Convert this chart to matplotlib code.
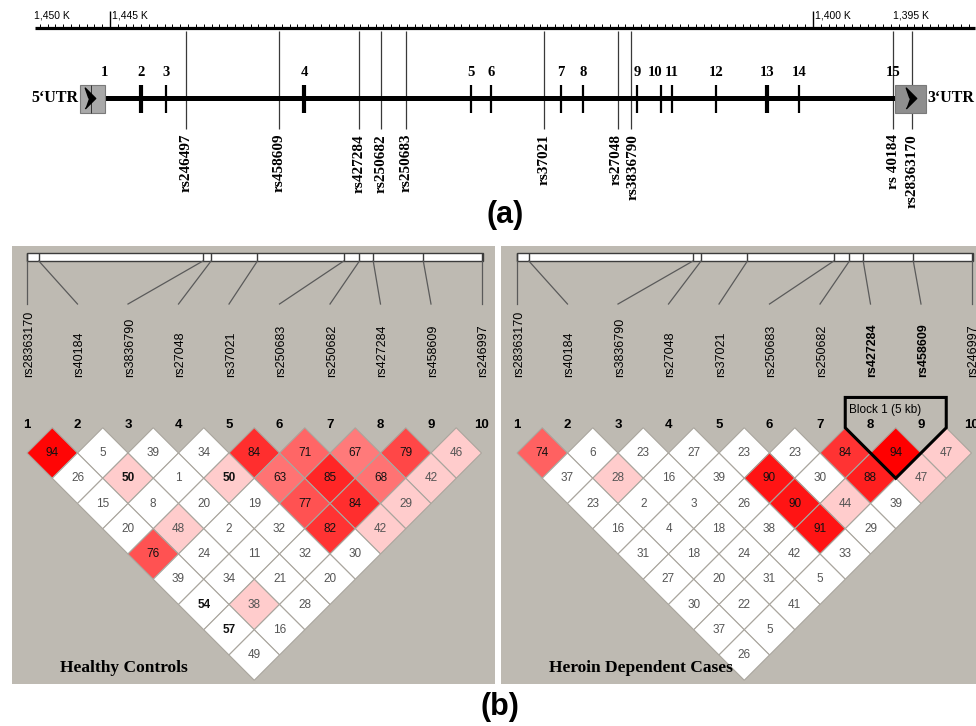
import numpy as np
import matplotlib.pyplot as plt
from matplotlib.patches import Polygon, Rectangle

# ---- data ----
# (a) gene map, positions in K (genomic coordinate / 1000)
gene_snp_names = ["rs246497", "rs458609", "rs427284", "rs250682", "rs250683",
                  "rs37021", "rs27048", "rs3836790", "rs 40184", "rs28363170"]
gene_snp_kb = [1440.13, 1434.18, 1429.06, 1427.65, 1426.05,
               1417.22, 1412.48, 1411.65, 1394.87, 1393.66]
exon_numbers = list(range(1, 16))
exon_kb = [1445.38, 1443.02, 1441.41, 1432.58, 1421.89, 1420.61, 1416.13, 1414.72,
           1411.26, 1409.72, 1409.02, 1406.20, 1402.94, 1400.89, 1394.87]
thick_exons = [2, 4, 13]
utr5_kb = (1446.92, 1445.32)
utr3_kb = (1394.74, 1392.76)
ruler_kb = (1449.8, 1389.6)
ruler_labels = [1450, 1445, 1400, 1395]
ruler_major = [1445, 1400]

# (b) LD plots
ld_markers = ["rs28363170", "rs40184", "rs3836790", "rs27048", "rs37021",
              "rs250683", "rs250682", "rs427284", "rs458609", "rs246997"]
ld_kb = gene_snp_kb[::-1]

healthy_ld = [
    [94, 5, 39, 34, 84, 71, 67, 79, 46],
    [26, 50, 1, 50, 63, 85, 68, 42],
    [15, 8, 20, 19, 77, 84, 29],
    [20, 48, 2, 32, 82, 42],
    [76, 24, 11, 32, 30],
    [39, 34, 21, 20],
    [54, 38, 28],
    [57, 16],
    [49],
]
healthy_shade = [
    [.98, 0, 0, 0, .82, .6, .52, .72, .2],
    [0, .2, 0, .2, .55, .85, .55, .2],
    [0, 0, 0, 0, .68, .82, .2],
    [0, .2, 0, 0, .8, .2],
    [.68, 0, 0, 0, 0],
    [0, 0, 0, 0],
    [0, .2, 0],
    [0, 0],
    [0],
]
healthy_strong = [(2, 1), (2, 3), (7, 0), (8, 0)]

cases_ld = [
    [74, 6, 23, 27, 23, 23, 84, 94, 47],
    [37, 28, 16, 39, 90, 30, 88, 47],
    [23, 2, 3, 26, 90, 44, 39],
    [16, 4, 18, 38, 91, 29],
    [31, 18, 24, 42, 33],
    [27, 20, 31, 5],
    [30, 22, 41],
    [37, 5],
    [26],
]
cases_shade = [
    [.62, 0, 0, 0, 0, 0, .8, 1.0, .2],
    [0, .2, 0, 0, .92, 0, .88, .2],
    [0, 0, 0, 0, .92, .2, 0],
    [0, 0, 0, 0, .92, 0],
    [0, 0, 0, 0, 0],
    [0, 0, 0, 0],
    [0, 0, 0],
    [0, 0],
    [0],
]
cases_block = (8, 9)

W, H = 976, 726
SANS = "Liberation Sans"
SERIF = "Liberation Serif"
fig = plt.figure(figsize=(W / 100, H / 100), dpi=100)


def px_axes(x0, y0, x1, y1):
    return fig.add_axes([x0 / W, 1 - y1 / H, (x1 - x0) / W, (y1 - y0) / H])


# ---------------- (a) gene structure ----------------
ax = px_axes(0, 0, W, 235)
ax.set_xlim(1445 + 110 / 15.62, 1445 - 866 / 15.62)
ax.set_ylim(235, 0)
ax.set_axis_off()

ax.plot(ruler_kb, [28, 28], color="k", lw=2.3, solid_capstyle="butt")
minor = np.arange(1449.5, ruler_kb[1], -0.5)
ax.vlines(minor, 24, 28, color="k", lw=0.7)
ax.vlines(ruler_major, 11, 28, color="k", lw=1.0)
for k in ruler_labels:
    ax.text(k - 0.12, 15.5, f"{k:,} K", fontsize=7.5, family=SANS,
            ha="left", va="center")

ax.vlines(gene_snp_kb, 31, 129, color="#3a3a3a", lw=0.9)
snp_nudge = {"rs27048": -1.5, "rs3836790": 1.5}   # points, close neighbours
for name, k in zip(gene_snp_names, gene_snp_kb):
    ax.annotate(name, (k, 134), xytext=(snp_nudge.get(name, 0), 0),
                textcoords="offset points", rotation=90, ha="center",
                va="top", family=SERIF, weight="bold", fontsize=11)

ax.plot([utr5_kb[1], utr3_kb[0]], [98, 98], color="k", lw=3.6,
        solid_capstyle="butt")
for (a, b), fc in [(utr5_kb, "#a9a9a9"), (utr3_kb, "#8e8e8e")]:
    ax.add_patch(Rectangle((b, 85), a - b, 28, facecolor=fc,
                           edgecolor="#7a7a7a", lw=0.8, zorder=3))
ax.vlines(1446.2, 85, 113, color="#333", lw=0.7, zorder=4)
chevron = [(-0.5, -1), (0.5, 0), (-0.5, 1), (-0.15, 0)]
ax.plot([1446.3, 1393.72], [98, 98], ls="none", marker=chevron, ms=15,
        color="k", zorder=5)

label_shift = {10: -4}   # points, keeps "10" clear of "11"
for n, k in zip(exon_numbers, exon_kb):
    if n not in (1, 15):
        ax.vlines(k, 85, 113, color="k", lw=3.0 if n in thick_exons else 1.6,
                  zorder=4)
    ax.annotate(str(n), (k, 73), xytext=(label_shift.get(n, 0), 0),
                textcoords="offset points", ha="center", va="center",
                family=SERIF, weight="bold", fontsize=10.5)

ax.text(utr5_kb[0] + 0.12, 98, "5\u2018UTR", ha="right", va="center",
        family=SERIF, weight="bold", fontsize=11.5)
ax.text(utr3_kb[1] - 0.12, 98, "3\u2018UTR", ha="left", va="center",
        family=SERIF, weight="bold", fontsize=11.5)

fig.text(505 / W, 1 - 215 / H, "(a)", fontsize=22, weight="bold",
         family=SANS, ha="center", va="center")
fig.text(500 / W, 1 - 707 / H, "(b)", fontsize=22, weight="bold",
         family=SANS, ha="center", va="center")

# ---------------- (b) LD plots ----------------
S = 50.5      # pixels per marker
Y0 = 427.75   # pixel row of y = 0


def shade_color(s):
    return (1.0, 1.0 - s, 1.0 - s)


def ld_panel(x0, x1, m1, values, shades, title, strong=(), block=None):
    ax = px_axes(x0, 246, x1, 684)
    ax.set_xlim(1 + (x0 - m1) / S, 1 + (x1 - m1) / S)
    ax.set_ylim((Y0 - 684) / S, (Y0 - 246) / S)
    ax.set_facecolor("#bebab2")
    ax.set_xticks([])
    ax.set_yticks([])
    for sp in ax.spines.values():
        sp.set_visible(False)

    n = len(ld_markers)
    idx = np.arange(1, n + 1)
    kb = np.array(ld_kb)
    bar_x = 1 + (n - 1) * (kb - kb[0]) / (kb[-1] - kb[0])
    ax.add_patch(Rectangle((1, 3.302), n - 1 + 0.03, 0.158, facecolor="white",
                           edgecolor="#3c3c3c", lw=1.0))
    ax.vlines(bar_x, 3.302, 3.46, color="#3c3c3c", lw=1.0)
    for bx, i in zip(bar_x, idx):
        ax.plot([bx, i], [3.302, 2.45], color="#5a5a5a", lw=0.9)

    in_block = set(range(block[0], block[1] + 1)) if block else set()
    for i, name in zip(idx, ld_markers):
        ax.text(i + 0.04, 1.005, name, rotation=90, ha="center", va="bottom",
                family=SANS, fontsize=9,
                weight="bold" if i in in_block else "normal")
        ax.text(i, 0.055, str(i), ha="center", va="center", family=SANS,
                weight="bold", fontsize=9.5)

    for d, (row, srow) in enumerate(zip(values, shades), start=1):
        for k, (v, s) in enumerate(zip(row, srow)):
            i = k + 1
            cx, cy = i + d / 2, -d / 2
            ax.add_patch(Polygon([(cx - .5, cy), (cx, cy + .5), (cx + .5, cy),
                                  (cx, cy - .5)], closed=True,
                                 facecolor=shade_color(s), edgecolor="#aaa69e",
                                 lw=0.8))
            bold = (d, k) in strong
            col = "#111111" if (s >= 0.5 or bold) else "#555555"
            ax.text(cx, cy, str(v), ha="center", va="center", family=SANS,
                    fontsize=8.5, color=col, weight="bold" if bold else "normal")

    if block:
        a, b = block
        top = 0.6
        ax.add_patch(Polygon([(a - .5, 0), (a - .5, top), (b + .5, top),
                              (b + .5, 0), ((a + b) / 2, -(b - a) / 2 - .5)],
                             closed=True, fill=False, edgecolor="k", lw=2.2,
                             zorder=5))
        ax.text(a - .5 + 0.08, 0.351, "Block 1 (5 kb)", ha="left",
                va="center", family=SANS, fontsize=8.5)

    ax.text(1 + (x0 + 48 - m1) / S, (Y0 - 668) / S, title, ha="left",
            va="center", family=SERIF, weight="bold", fontsize=12.5)


ld_panel(12, 495, 27, healthy_ld, healthy_shade, "Healthy Controls",
         strong=healthy_strong)
ld_panel(501, 976, 517, cases_ld, cases_shade, "Heroin Dependent Cases",
         block=cases_block)

fig.savefig("out.png", dpi=100)
